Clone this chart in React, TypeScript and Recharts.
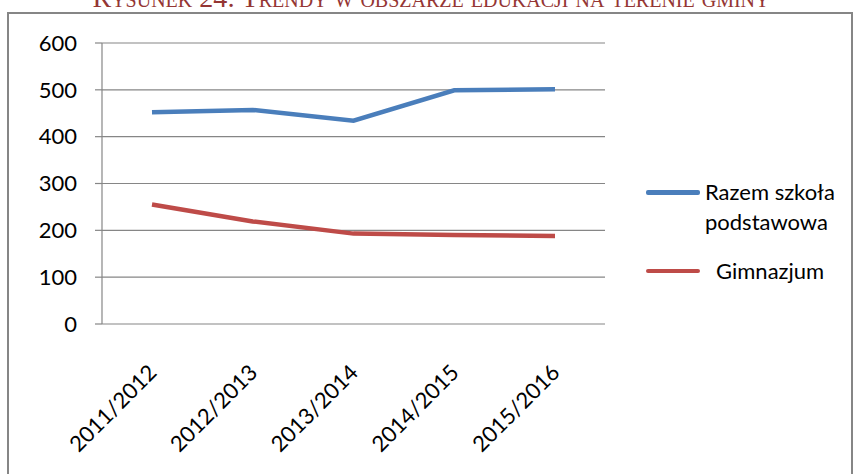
import React from "react"
import { LineChart, Line, XAxis, YAxis, CartesianGrid } from "recharts"

// values
const years = ["2011/2012", "2012/2013", "2013/2014", "2014/2015", "2015/2016"]
const podstawowa = [452, 457, 434, 499, 501]
const gimnazjum = [255, 219, 193, 190, 188]
const yTicks = [0, 100, 200, 300, 400, 500, 600]
const edgeTicks = [0, 1, 2, 3, 4, 5]

const BLUE = "#4a7ebb"
const RED = "#be4b48"
const GRID = "#868686"
const FONT = "Lato, 'Open Sans', sans-serif"

const data = years.map((y, i) => ({ year: y, podstawowa: podstawowa[i], gimnazjum: gimnazjum[i] }))

const XTick = ({ x, y, payload }: any) => (
  <text
    x={x + 6}
    y={y + 42}
    textAnchor="end"
    transform={`rotate(-45, ${x + 6}, ${y + 42})`}
    fontSize={22}
    fontFamily={FONT}
    fill="#000"
  >
    {payload.value}
  </text>
)

const LegendBox = () => (
  <div style={{ position: "absolute", left: 646, top: 177, fontFamily: FONT, fontSize: 22, color: "#000", lineHeight: "30px" }}>
    <div style={{ display: "flex", alignItems: "flex-start" }}>
      <div style={{ width: 54, height: 4.5, background: BLUE, borderRadius: 2, marginTop: 13 }} />
      <div style={{ marginLeft: 5 }}>Razem szkoła<br />podstawowa</div>
    </div>
    <div style={{ display: "flex", alignItems: "center", marginTop: 19 }}>
      <div style={{ width: 54, height: 4.5, background: RED, borderRadius: 2 }} />
      <div style={{ marginLeft: 16 }}>Gimnazjum</div>
    </div>
  </div>
)

export default function App() {
  return (
    <div style={{ position: "fixed", left: 0, top: 0, width: 862, height: 474, background: "#fff", overflow: "hidden" }}>
      <div
        style={{
          position: "absolute",
          left: 0,
          width: 862,
          top: -16,
          textAlign: "center",
          fontFamily: "'Liberation Serif', serif",
          fontVariant: "small-caps",
          fontSize: 28,
          color: "#943634",
          lineHeight: "28px",
          whiteSpace: "nowrap",
        }}
      >
        Rysunek 24: Trendy w obszarze edukacji na terenie gminy
      </div>
      <div
        style={{
          position: "absolute",
          left: 7,
          top: 12,
          width: 846,
          height: 480,
          border: `2px solid ${GRID}`,
          boxSizing: "border-box",
        }}
      />
      <div style={{ position: "absolute", left: 0, top: 0 }}>
        <LineChart width={862} height={474} data={data} margin={{ top: 43, right: 257, left: 42, bottom: 30 }}>
          <CartesianGrid vertical={false} stroke={GRID} strokeWidth={1.2} />
          <XAxis
            xAxisId="edge"
            type="number"
            domain={[0, 5]}
            ticks={edgeTicks}
            height={0}
            tick={false}
            tickSize={8}
            axisLine={{ stroke: GRID, strokeWidth: 1.2 }}
            tickLine={{ stroke: GRID, strokeWidth: 1.2 }}
          />
          <XAxis
            dataKey="year"
            interval={0}
            height={120}
            padding={{ left: 50, right: 50 }}
            tick={<XTick />}
            tickLine={false}
            axisLine={false}
          />
          <YAxis
            domain={[0, 600]}
            ticks={yTicks}
            interval={0}
            width={60}
            tickSize={7}
            tickMargin={18}
            axisLine={{ stroke: GRID, strokeWidth: 1.2 }}
            tickLine={{ stroke: GRID, strokeWidth: 1.2 }}
            tick={{ fontSize: 22, fontFamily: FONT, fill: "#000" }}
          />
          <Line type="linear" dataKey="podstawowa" name="Razem szkoła podstawowa" stroke={BLUE} strokeWidth={4.5} dot={false} isAnimationActive={false} />
          <Line type="linear" dataKey="gimnazjum" name="Gimnazjum" stroke={RED} strokeWidth={4.5} dot={false} isAnimationActive={false} />
        </LineChart>
      </div>
      <LegendBox />
    </div>
  )
}
